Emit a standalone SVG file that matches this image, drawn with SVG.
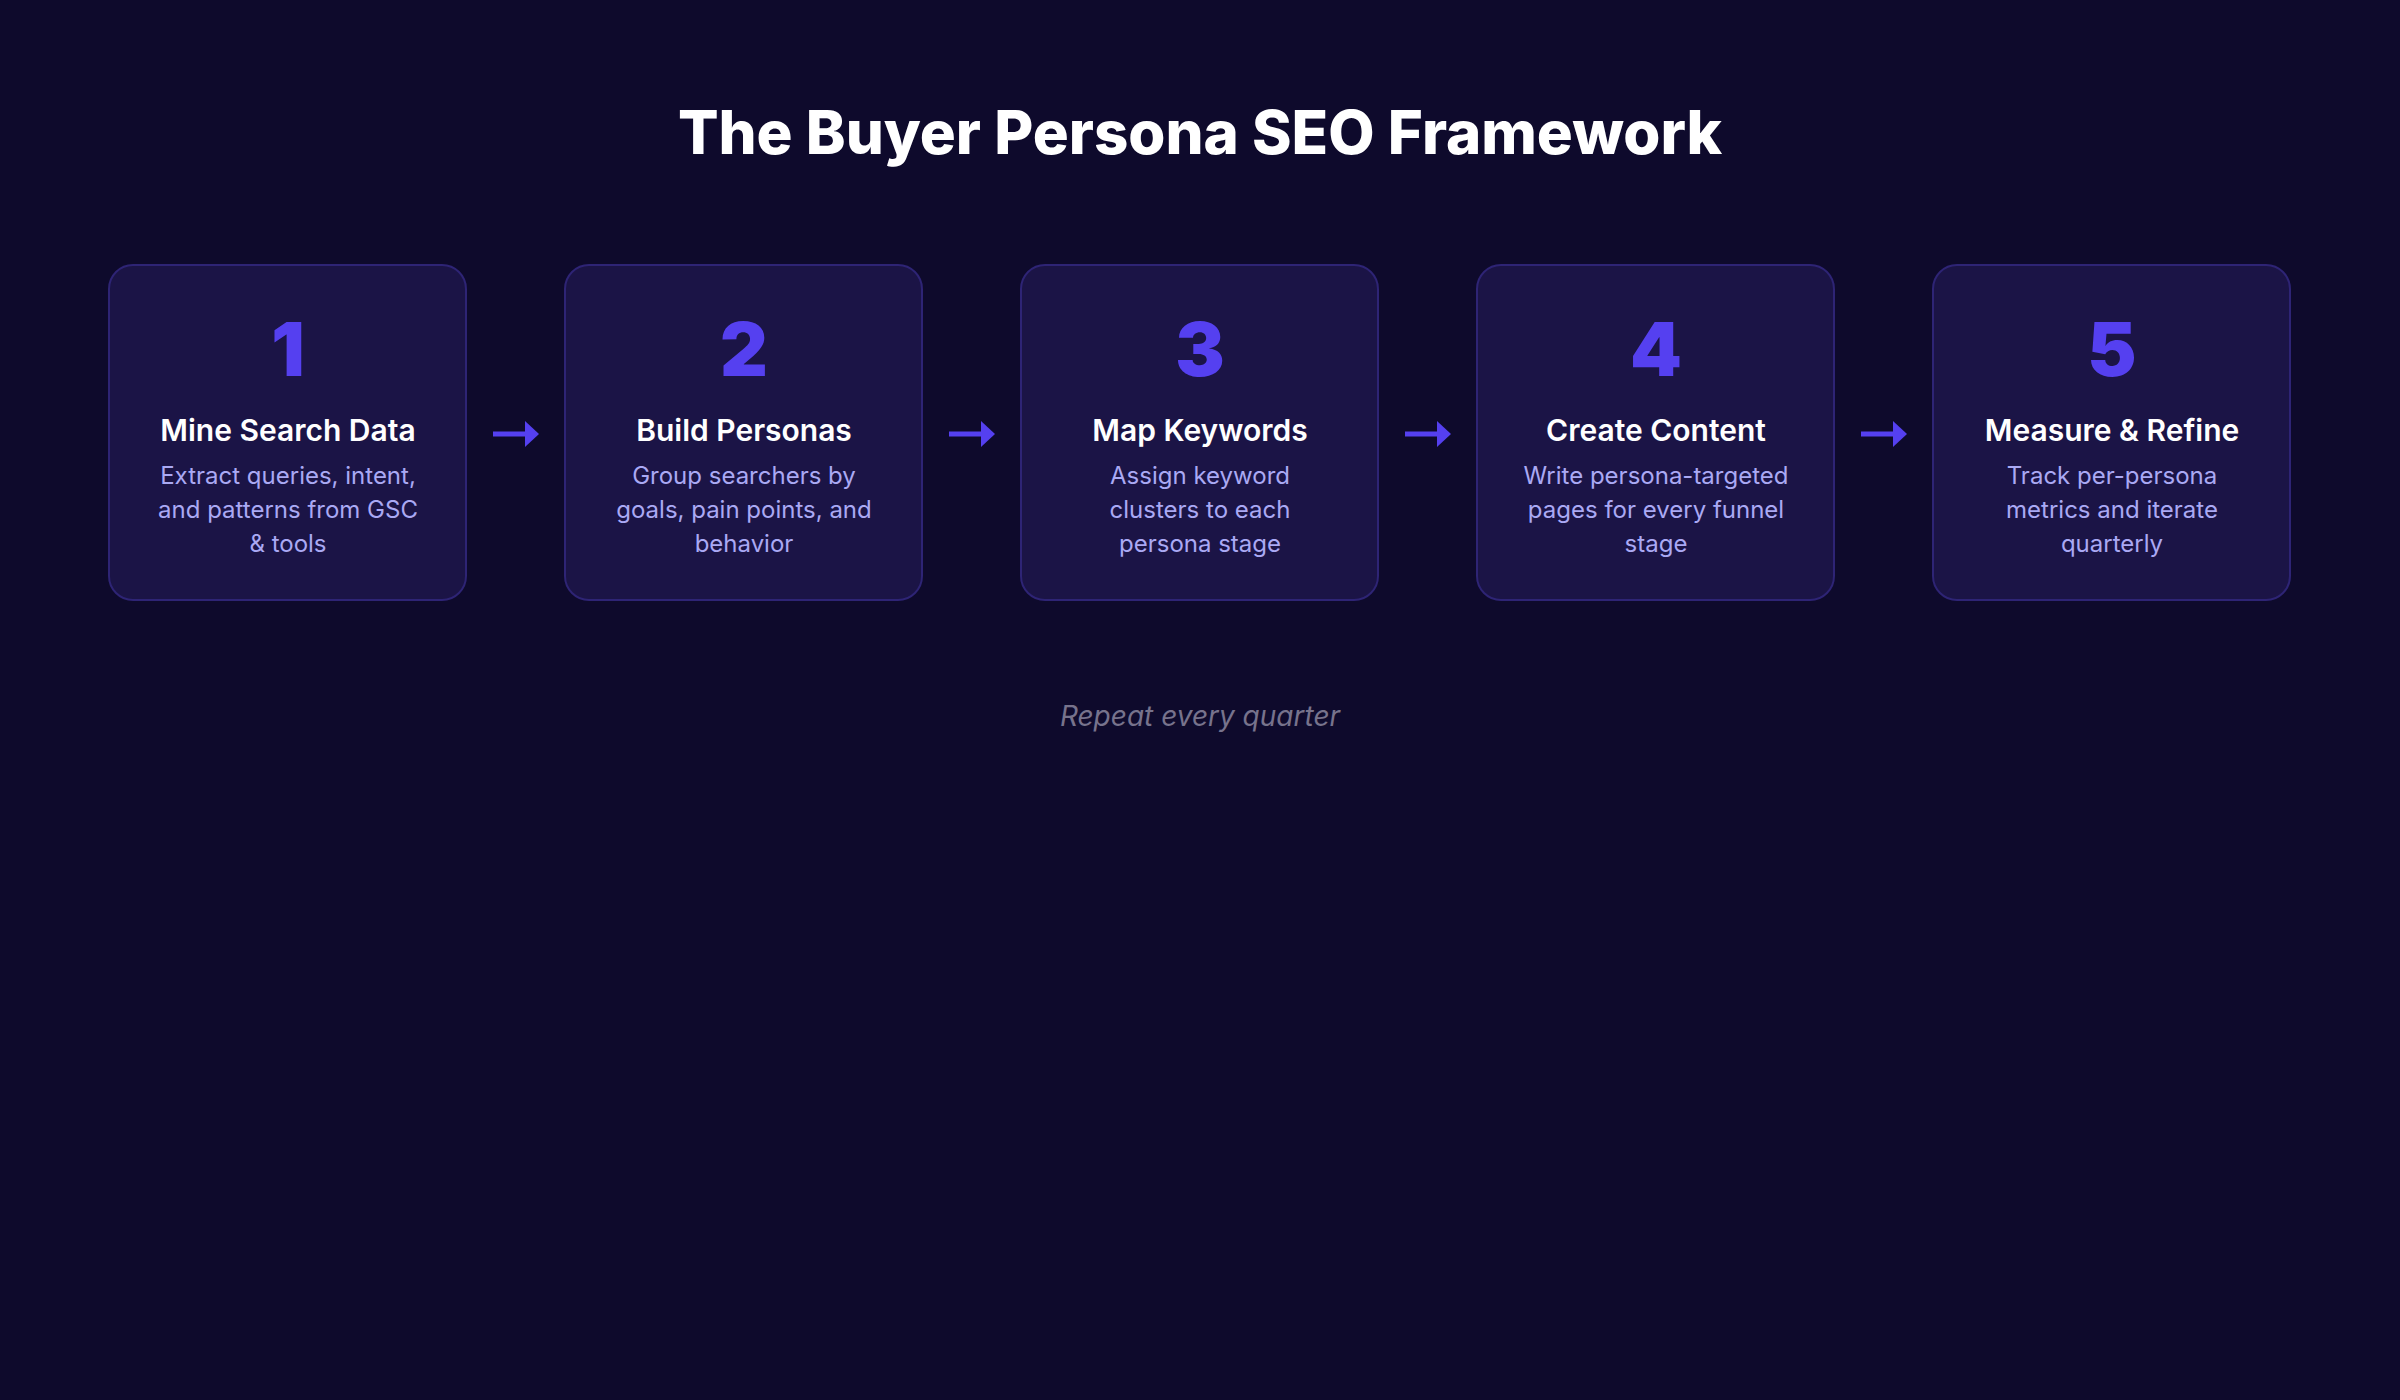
<svg xmlns="http://www.w3.org/2000/svg" width="2400" height="1400" viewBox="0 0 2400 1400">
  <style>
    .bg { fill: #0e0a2c; }
    .title { font-family: Inter, "Noto Sans", "Liberation Sans", sans-serif; font-weight: 800; font-size: 60px; fill: #ffffff; text-anchor: middle; }
    .card { fill: #1b1446; stroke: #2e2475; stroke-width: 2; }
    .num { font-family: Inter, "Noto Sans", "Liberation Sans", sans-serif; font-weight: 900; font-size: 74px; fill: #5540f0; text-anchor: middle; }
    .head { font-family: Inter, "Noto Sans", "Liberation Sans", sans-serif; font-weight: 600; font-size: 30px; fill: #ffffff; text-anchor: middle; }
    .desc { font-family: Inter, "Noto Sans", "Liberation Sans", sans-serif; font-weight: 400; font-size: 24px; fill: #aaa9f4; text-anchor: middle; }
    .foot { font-family: Inter, "Noto Sans", "Liberation Sans", sans-serif; font-style: italic; font-size: 28px; fill: #77738c; text-anchor: middle; }
    .conn { stroke: #5540f0; stroke-width: 5; fill: none; }
    .head-arrow { fill: #5540f0; }
  </style>
  <rect class="bg" x="0" y="0" width="2400" height="1400"/>
  <text class="title" x="1200" y="154">The Buyer Persona SEO Framework</text>

  <g id="node-1">
    <rect class="card" x="109" y="265" width="357" height="335" rx="24"/>
    <text class="num" x="288" y="376">1</text>
    <text class="head" x="288" y="441">Mine Search Data</text>
    <text class="desc" x="288" y="484">Extract queries, intent,</text>
    <text class="desc" x="288" y="518">and patterns from GSC</text>
    <text class="desc" x="288" y="552">&amp; tools</text>
  </g>
  <g id="node-2">
    <rect class="card" x="565" y="265" width="357" height="335" rx="24"/>
    <text class="num" x="744" y="376">2</text>
    <text class="head" x="744" y="441">Build Personas</text>
    <text class="desc" x="744" y="484">Group searchers by</text>
    <text class="desc" x="744" y="518">goals, pain points, and</text>
    <text class="desc" x="744" y="552">behavior</text>
  </g>
  <g id="node-3">
    <rect class="card" x="1021" y="265" width="357" height="335" rx="24"/>
    <text class="num" x="1200" y="376">3</text>
    <text class="head" x="1200" y="441">Map Keywords</text>
    <text class="desc" x="1200" y="484">Assign keyword</text>
    <text class="desc" x="1200" y="518">clusters to each</text>
    <text class="desc" x="1200" y="552">persona stage</text>
  </g>
  <g id="node-4">
    <rect class="card" x="1477" y="265" width="357" height="335" rx="24"/>
    <text class="num" x="1656" y="376">4</text>
    <text class="head" x="1656" y="441">Create Content</text>
    <text class="desc" x="1656" y="484">Write persona-targeted</text>
    <text class="desc" x="1656" y="518">pages for every funnel</text>
    <text class="desc" x="1656" y="552">stage</text>
  </g>
  <g id="node-5">
    <rect class="card" x="1933" y="265" width="357" height="335" rx="24"/>
    <text class="num" x="2112" y="376">5</text>
    <text class="head" x="2112" y="441">Measure &amp; Refine</text>
    <text class="desc" x="2112" y="484">Track per-persona</text>
    <text class="desc" x="2112" y="518">metrics and iterate</text>
    <text class="desc" x="2112" y="552">quarterly</text>
  </g>

  <g id="connectors">
    <line class="conn" x1="493" y1="434" x2="527" y2="434"/>
    <polygon class="head-arrow" points="525,421 539,434 525,447"/>
    <line class="conn" x1="949" y1="434" x2="983" y2="434"/>
    <polygon class="head-arrow" points="981,421 995,434 981,447"/>
    <line class="conn" x1="1405" y1="434" x2="1439" y2="434"/>
    <polygon class="head-arrow" points="1437,421 1451,434 1437,447"/>
    <line class="conn" x1="1861" y1="434" x2="1895" y2="434"/>
    <polygon class="head-arrow" points="1893,421 1907,434 1893,447"/>
  </g>

  <text class="foot" x="1200" y="726">Repeat every quarter</text>
</svg>
